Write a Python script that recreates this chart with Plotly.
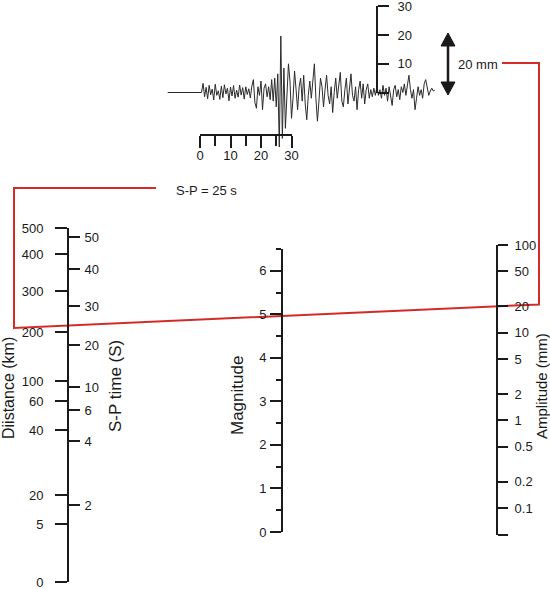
import math
import plotly.graph_objects as go

W, H = 550, 589

# ---------------- data ----------------
# Seismogram: amplitude (mm on the recording scale), sampled every 0.5 s from t = 0.5 s
SEIS_START = 0.5
SEIS_STEP = 0.5
SEIS_AMP = [
    # P coda, t = 0.5 .. 17.0 s
    0, 3.2, -1.5, 1.8, -2.2, 2.5, -0.8, 1.2, -2.6, 2.9, -1.0, 0.6, -2.4, 2.2, -1.8, 2.7,
    -0.5, 1.5, -2.9, 1.9, -1.2, 2.4, -2.0, 0.8, -1.6, 2.6, -0.9, 1.7, -2.3, 2.0, -0.7, 1.3,
    -1.9, 2.2,
    # growing motion and S arrival, t = 17.5 .. 27.5 s
    4.5, -3.5, -5.5, 2.0, -1.0, 4.0, -6.0, 1.5, 3.0, -1.5, 2.0, -2.5, 4.5, -3.0, 5.0, -5.0,
    6.5, -19.0, 19.7, -16.0, 8.5,
    # S coda, t = 28.0 .. 77.0 s
    -12.5, -3, 10, 4, -9, -2, 7.5, 1, -6, 2, 5, -3, 6, -4, -9.5, -1, 4, -2, 3, 10,
    -2, -10, -3, 5, 2, -5, 1, 6, -1, -4, 2, -7, 0, 5, -2, 3, 7, -3, -5, 1,
    5, -4, 2, 6.5, -1, -3, 2, -6, 1, 4, -2, 3, -4, 1, 3, -2, 1, -1.5, 1.5, -1,
    2, -1, 1, -2, 2.5, -1, 1.5, -3, 2, -1, -4.5, 1, 2.5, -1.5, 1, -2.5, 2, 0, 3, -1,
    2, 6, 1, -2, 1, -6, -2, 2, -1, 1, -2, 3, 4.5, 2, -1, 0.5, 1.5, 0.5, 0.8,
]
PRE_EVENT_T = [-10.6]
PRE_EVENT_A = [0]

TIME_TICKS = [0, 10, 20, 30]
TIME_MINOR = [5, 15, 25]
SEIS_AMP_TICKS = [0, 10, 20, 30]
SEIS_AMP_LABELS = ["", "10", "20", "30"]

# Nomogram scales (positions along the left scale are fractions of its length)
DIST_LABELS = ["500", "400", "300", "200", "100", "60", "40", "20", "5", "0"]
DIST_SCALE = [1.0, 0.9266, 0.822, 0.7062, 0.5678, 0.5113, 0.4294, 0.2458, 0.1638, 0.0]
SP_LABELS = ["50", "40", "30", "20", "10", "6", "4", "2"]
SP_VALUES = [50, 40, 30, 20, 10, 6, 4, 2]
SP_SCALE = [0.9746, 0.8842, 0.7797, 0.6695, 0.5508, 0.4859, 0.3983, 0.2175]
MAG_RANGE = [0, 6.5]
AMP_TICKS = [100, 50, 20, 10, 5, 2, 1, 0.5, 0.2, 0.1]
AMP_LABELS = ["100", "50", "20", "10", "5", "2", "1", "0.5", "0.2", "0.1"]
AMP_LOG_RANGE = [-1.307, 2.0]

READ_SP = 25     # s
READ_AMP = 20    # mm

# ---------------- layout geometry (pixels) ----------------
SEIS_T0_X, SEIS_PX_PER_S = 200.0, 3.05
SEIS_BASE_Y, SEIS_PX_PER_MM = 92.5, 2.87
LEFT_X, LEFT_TOP, LEFT_BOT = 68, 228, 582
MAG_X, MAG_TOP, MAG_BOT = 282, 249, 532
AMP_X, AMP_TOP, AMP_BOT = 497, 245, 535

FONT = "Liberation Sans, Arial, sans-serif"
INK = "#1a1a1a"
RED = "#d42a28"
TICKFONT = dict(family=FONT, size=13, color=INK)


def ydom(top, bot):
    return [1 - bot / H, 1 - top / H]


fig = go.Figure()

# seismogram trace
t = [SEIS_START + i * SEIS_STEP for i in range(len(SEIS_AMP))]
fig.add_trace(go.Scatter(x=PRE_EVENT_T + t, y=PRE_EVENT_A + SEIS_AMP, xaxis="x2", yaxis="y2",
                         mode="lines", line=dict(color="#2b2b2b", width=1), hoverinfo="skip"))

# dummy traces so that each scale axis gets a subplot
for xa, ya, yv in [("x3", "y2", 0), ("x2", "y3", 0), ("x", "y4", 0), ("x", "y5", 0),
                   ("x", "y6", 0), ("x", "y7", 1)]:
    fig.add_trace(go.Scatter(x=[-1e6], y=[yv], xaxis=xa, yaxis=ya, mode="markers",
                             marker=dict(opacity=0), hoverinfo="skip"))


# red reading line: through S-P = 25 s on the left scale and 20 mm on the amplitude scale
def left_y(u):
    return LEFT_BOT - u * (LEFT_BOT - LEFT_TOP)


def sp_to_u(v):
    for i in range(len(SP_VALUES) - 1):
        a, b = SP_VALUES[i], SP_VALUES[i + 1]
        if b <= v <= a:
            f = (v - b) / (a - b)
            return SP_SCALE[i + 1] + f * (SP_SCALE[i] - SP_SCALE[i + 1])
    return 0


def amp_y(a):
    lo, hi = AMP_LOG_RANGE
    return AMP_TOP + (hi - math.log10(a)) / (hi - lo) * (AMP_BOT - AMP_TOP)


yl = left_y(sp_to_u(READ_SP))
yr = amp_y(READ_AMP)
slope = (yr - yl) / (AMP_X - LEFT_X)
x_a, x_b = 14, 539
y_a = yl + slope * (x_a - LEFT_X)
y_b = yr + slope * (x_b - AMP_X)
fig.add_trace(go.Scatter(
    x=[156, x_a, x_a, x_b, x_b, 502],
    y=[188, 188, y_a, y_b, 63, 63],
    xaxis="x", yaxis="y", mode="lines", line=dict(color=RED, width=2), hoverinfo="skip"))

# double arrow (20 mm)
shapes = [
    dict(type="line", xref="x", yref="y", x0=448, x1=448, y0=44, y1=84,
         line=dict(color=INK, width=2.5)),
    dict(type="path", xref="x", yref="y", path="M 441 46 L 448 33 L 455 46 Z",
         fillcolor=INK, line=dict(color=INK, width=1)),
    dict(type="path", xref="x", yref="y", path="M 441 82 L 448 95 L 455 82 Z",
         fillcolor=INK, line=dict(color=INK, width=1)),
]

annotations = [
    dict(text="20 mm", x=456, y=64, xref="x", yref="y", xanchor="left", yanchor="middle",
         showarrow=False, font=dict(family=FONT, size=13, color=INK)),
    dict(text="S-P = 25 s", x=174, y=190, xref="x", yref="y", xanchor="left", yanchor="middle",
         showarrow=False, font=dict(family=FONT, size=13, color=INK)),
    dict(text="Diistance (km)", x=8, y=388, xref="x", yref="y", textangle=-90,
         showarrow=False, font=dict(family=FONT, size=16, color=INK)),
    dict(text="S-P time (S)", x=115, y=386, xref="x", yref="y", textangle=-90,
         showarrow=False, font=dict(family=FONT, size=17, color=INK)),
    dict(text="Magnitude", x=237, y=396, xref="x", yref="y", textangle=-90,
         showarrow=False, font=dict(family=FONT, size=17, color=INK)),
    dict(text="Amplitude (mm)", x=541, y=386, xref="x", yref="y", textangle=-90,
         showarrow=False, font=dict(family=FONT, size=15, color=INK)),
]

axis_common = dict(showline=True, linewidth=2, linecolor=INK, ticks="outside", tickwidth=2,
                   tickcolor=INK, showgrid=False, zeroline=False, tickfont=TICKFONT,
                   fixedrange=True, automargin=False, ticklabeloverflow="allow")

hidden = dict(visible=False, showgrid=False, zeroline=False, fixedrange=True, automargin=False)

fig.update_layout(
    width=W, height=H, margin=dict(l=0, r=0, t=0, b=0, pad=0, autoexpand=False),
    paper_bgcolor="white", plot_bgcolor="rgba(0,0,0,0)", showlegend=False,
    xaxis=dict(range=[0, W], domain=[0, 1], anchor="y", **hidden),
    yaxis=dict(range=[H, 0], domain=[0, 1], anchor="x", **hidden),
    xaxis2=dict(range=[(0 - SEIS_T0_X) / SEIS_PX_PER_S, (W - SEIS_T0_X) / SEIS_PX_PER_S],
                domain=[0, 1], anchor="y2", **hidden),
    yaxis2=dict(range=[(SEIS_BASE_Y - H) / SEIS_PX_PER_MM, SEIS_BASE_Y / SEIS_PX_PER_MM],
                domain=[0, 1], anchor="x2", **hidden),
    xaxis3=dict(domain=[SEIS_T0_X / W, (SEIS_T0_X + 30 * SEIS_PX_PER_S) / W], range=[0, 30],
                anchor="free", position=1 - 135 / H, side="bottom", ticklen=12,
                tickvals=TIME_TICKS, ticktext=[str(v) for v in TIME_TICKS],
                ticklabelstandoff=-4,
                minor=dict(ticks="outside", ticklen=10, tickwidth=2, tickcolor=INK,
                           tickvals=TIME_MINOR),
                **axis_common),
    yaxis3=dict(domain=ydom(SEIS_BASE_Y - 30 * SEIS_PX_PER_MM, SEIS_BASE_Y), range=[0, 30],
                anchor="free", position=377 / W, side="right", ticklen=11,
                tickvals=SEIS_AMP_TICKS, ticktext=SEIS_AMP_LABELS, ticklabelstandoff=6,
                **axis_common),
    yaxis4=dict(domain=ydom(LEFT_TOP, LEFT_BOT), range=[0, 1], anchor="free",
                position=LEFT_X / W, side="left", ticklen=12,
                tickvals=DIST_SCALE, ticktext=DIST_LABELS, ticklabelstandoff=9,
                **axis_common),
    yaxis5=dict(domain=ydom(LEFT_TOP, LEFT_BOT), range=[0, 1], anchor="free",
                position=LEFT_X / W, side="right", ticklen=11,
                tickvals=SP_SCALE, ticktext=SP_LABELS, ticklabelstandoff=2,
                **axis_common),
    yaxis6=dict(domain=ydom(MAG_TOP, MAG_BOT), range=MAG_RANGE, anchor="free",
                position=MAG_X / W, side="left", ticklen=11, tickmode="linear", tick0=0, dtick=1,
                minor=dict(ticks="outside", ticklen=5, tickwidth=2, tickcolor=INK, dtick=0.5, tick0=0),
                ticklabelstandoff=1,
                **axis_common),
    yaxis7=dict(type="log", domain=ydom(AMP_TOP, AMP_BOT), range=AMP_LOG_RANGE, anchor="free",
                position=AMP_X / W, side="right", ticklen=10,
                tickvals=AMP_TICKS + [10 ** AMP_LOG_RANGE[0]], ticktext=AMP_LABELS + [""],
                ticklabelstandoff=4,
                **axis_common),
    shapes=shapes,
    annotations=annotations,
)

fig.write_html("out.html", config={"displayModeBar": False},
               post_script="document.body.style.margin='0px';document.body.style.padding='0px';")
